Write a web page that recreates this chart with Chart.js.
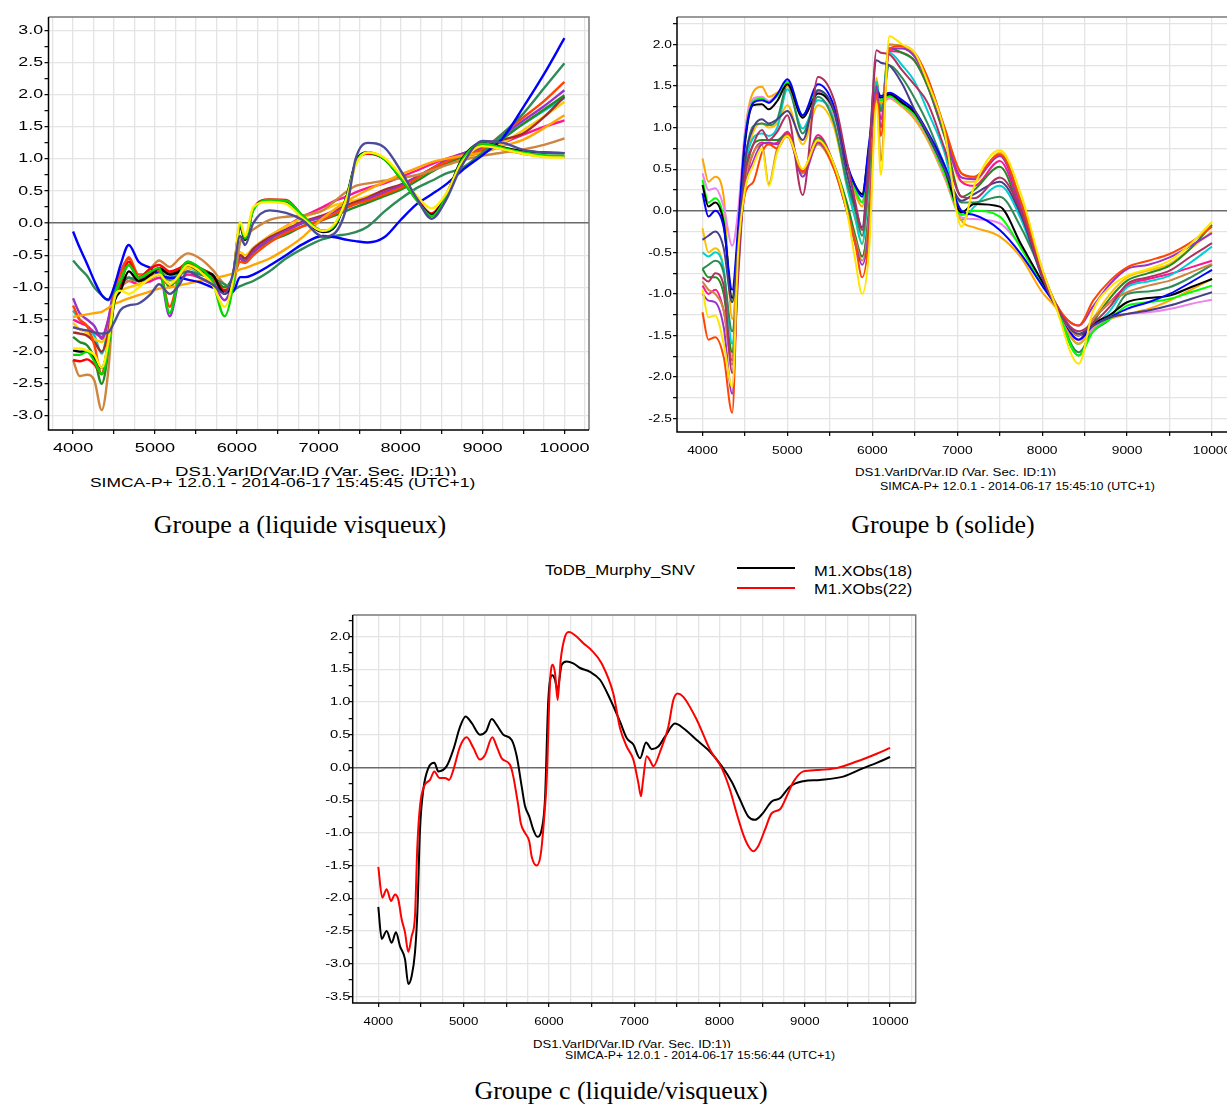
<!DOCTYPE html>
<html>
<head>
<meta charset="utf-8">
<title>Groupes a, b, c</title>
<script src="https://cdn.jsdelivr.net/npm/chart.js@4.4.1/dist/chart.umd.min.js"></script>
<style>
  body { margin: 0; background: #fff; }
  #page { position: relative; width: 1227px; height: 1104px; overflow: hidden; background: #fff;
          font-family: "Liberation Sans", Arial, sans-serif; color: #000; }
  canvas { position: absolute; }
  .txt { position: absolute; white-space: nowrap; transform-origin: left top; }
  .clip { overflow: hidden; }
  .cap { position: absolute; white-space: nowrap; font-family: "Liberation Serif", "Times New Roman", serif;
         font-size: 26px; line-height: 30px; transform: translateX(-50%); }
  .leg { position: absolute; height: 0; width: 58px; }
</style>
</head>
<body>
<div id="page">
  <canvas id="chartA" width="600" height="460" style="left:0;top:0"></canvas>
  <canvas id="chartB" width="620" height="460" style="left:630px;top:0"></canvas>
  <canvas id="chartC" width="640" height="430" style="left:300px;top:600px"></canvas>

  <!-- axis texts, group a -->
  <div class="txt clip" style="left:175px;top:463px;height:13px;font-size:13.5px;line-height:18px;transform:scaleX(1.38)">DS1.VarID(Var.ID (Var. Sec. ID:1))</div>
  <div class="txt" style="left:90px;top:474px;font-size:13.5px;line-height:18px;transform:scaleX(1.29)">SIMCA-P+ 12.0.1 - 2014-06-17 15:45:45 (UTC+1)</div>
  <div class="cap" style="left:300px;top:510px">Groupe a (liquide visqueux)</div>

  <!-- axis texts, group b -->
  <div class="txt clip" style="left:855px;top:466px;height:10px;font-size:11px;line-height:13px;transform:scaleX(1.21)">DS1.VarID(Var.ID (Var. Sec. ID:1))</div>
  <div class="txt" style="left:880px;top:480px;font-size:11px;line-height:13px;transform:scaleX(1.13)">SIMCA-P+ 12.0.1 - 2014-06-17 15:45:10 (UTC+1)</div>
  <div class="cap" style="left:943px;top:510px">Groupe b (solide)</div>

  <!-- group c legend and texts -->
  <div class="txt" style="left:545px;top:561px;font-size:15.5px;line-height:18px;transform:scaleX(1.08)">ToDB_Murphy_SNV</div>
  <div class="leg" style="left:737px;top:567px;border-top:2px solid #000"></div>
  <div class="leg" style="left:737px;top:587px;border-top:2px solid #ff0000"></div>
  <div class="txt" style="left:814px;top:562px;font-size:15.5px;line-height:18px;transform:scaleX(1.065)">M1.XObs(18)</div>
  <div class="txt" style="left:814px;top:580px;font-size:15.5px;line-height:18px;transform:scaleX(1.065)">M1.XObs(22)</div>
  <div class="txt clip" style="left:533px;top:1038px;height:10px;font-size:11px;line-height:13px;transform:scaleX(1.19)">DS1.VarID(Var.ID (Var. Sec. ID:1))</div>
  <div class="txt" style="left:565px;top:1049px;font-size:11px;line-height:13px;transform:scaleX(1.11)">SIMCA-P+ 12.0.1 - 2014-06-17 15:56:44 (UTC+1)</div>
  <div class="cap" style="left:621px;top:1076px">Groupe c (liquide/visqueux)</div>
</div>

<script>
// ===== Groupe a (liquide visqueux) =====
const wnA = [4000, 4080, 4170, 4260, 4350, 4430, 4500, 4580, 4680, 4800, 4950, 5050, 5180, 5300, 5400,
  5550, 5700, 5850, 5950, 6040, 6100, 6200, 6400, 6600, 6800, 7050, 7200, 7350, 7450, 7600,
  7800, 8000, 8200, 8380, 8550, 8750, 9000, 9250, 9500, 9750, 10000];

const aSlate = [-1.62,-1.65,-1.67,-1.7,-1.72, -1.7,-1.55,-1.35,-1.28,-1.25, -1.1,-0.95,-1.1,-0.95,-0.75,
  -0.85,-0.95,-1.1,-0.8,-0.2, -0.34,0.0,0.2,0.16,0.05, -0.21,-0.15,0.3,1.0,1.25,
  1.18,0.82,0.38,0.07,0.35, 0.9,1.28,1.25,1.14,1.1, 1.09];
const aYellow = [-1.95,-1.95,-1.98,-2.05,-2.25, -1.85,-1.2,-1.05,-1.1,-1.0, -0.85,-0.8,-0.95,-0.8,-0.65,
  -0.75,-0.95,-1.3,-0.9,0.02, -0.2,0.25,0.33,0.3,0.08, -0.12,0.0,0.42,0.9,1.1,
  1.02,0.75,0.42,0.23,0.45, 0.95,1.2,1.15,1.08,1.03, 1.02];
const aLime = [-2.05,-2.05,-2.0,-2.15,-2.35, -1.95,-1.2,-0.9,-0.65,-0.85, -0.75,-0.7,-1.4,-0.8,-0.6,
  -0.7,-0.9,-1.45,-1.0,-0.02, -0.24,0.2,0.36,0.35,0.12, -0.12,-0.02,0.45,0.93,1.1,
  1.0,0.7,0.35,0.11,0.4, 0.98,1.24,1.17,1.1,1.06, 1.05];
const aBlack = [-1.98,-2.0,-2.0,-2.1,-2.25, -1.9,-1.25,-1.05,-0.75,-0.9, -0.8,-0.7,-0.8,-0.75,-0.65,
  -0.75,-0.8,-1.1,-0.85,-0.05, -0.26,0.22,0.35,0.34,0.1, -0.14,-0.05,0.46,0.95,1.1,
  1.0,0.7,0.36,0.13,0.42, 1.0,1.25,1.18,1.12,1.1, 1.09];
const aRed = [-2.13,-2.15,-2.12,-2.2,-2.35, -1.9,-1.2,-0.95,-0.6,-0.85, -0.7,-0.65,-0.75,-0.7,-0.62,
  -0.72,-0.8,-1.05,-0.85,-0.05, -0.25,0.22,0.37,0.36,0.12, -0.12,-0.03,0.45,0.93,1.08,
  1.0,0.72,0.38,0.15,0.43, 0.98,1.22,1.15,1.08,1.04, 1.03];
const aBlue = [-0.13,-0.38,-0.63,-0.9,-1.12, -1.19,-1.0,-0.65,-0.34,-0.6, -0.7,-0.8,-0.85,-0.85,-0.88,
  -0.92,-1.0,-1.05,-1.07,-0.84, -0.84,-0.8,-0.66,-0.5,-0.33, -0.2,-0.22,-0.26,-0.28,-0.3,
  -0.22,0.05,0.3,0.45,0.6, 0.82,1.06,1.33,1.81,2.32, 2.88];
const aSeaGreen = [-0.58,-0.7,-0.82,-1.0,-1.12, -1.2,-1.05,-0.92,-0.85,-0.9, -0.85,-0.8,-0.88,-0.8,-0.75,
  -0.8,-0.85,-0.95,-1.04,-0.98, -0.95,-0.9,-0.75,-0.55,-0.4, -0.25,-0.2,-0.17,-0.14,-0.05,
  0.18,0.38,0.55,0.66,0.77, 0.86,1.1,1.4,1.71,2.1, 2.49];
const aOrange = [-1.46,-1.44,-1.42,-1.4,-1.38, -1.32,-1.26,-1.22,-1.17,-1.12, -1.06,-1.02,-1.0,-0.97,-0.94,
  -0.9,-0.86,-0.82,-0.78,-0.72, -0.7,-0.65,-0.55,-0.4,-0.22, 0.08,0.22,0.35,0.42,0.52,
  0.64,0.76,0.86,0.95,1.0, 1.05,1.1,1.2,1.3,1.48, 1.68];
const aPeru = [-2.13,-2.38,-2.36,-2.45,-2.91, -2.3,-1.2,-0.98,-0.9,-0.85, -0.7,-0.58,-0.68,-0.55,-0.47,
  -0.55,-0.72,-0.95,-0.99,-0.3, -0.2,-0.1,0.05,0.1,0.12, 0.2,0.35,0.5,0.58,0.62,
  0.66,0.7,0.75,0.82,0.9, 0.98,1.05,1.1,1.15,1.22, 1.32];
const aOrangeRed = [-1.28,-1.5,-1.6,-1.9,-2.35, -1.8,-1.1,-0.8,-0.53,-0.8, -0.8,-0.72,-1.3,-0.8,-0.65,
  -0.72,-0.85,-1.05,-0.9,-0.6, -0.62,-0.5,-0.3,-0.15,-0.05, 0.05,0.15,0.25,0.3,0.35,
  0.45,0.55,0.7,0.85,0.95, 1.05,1.15,1.4,1.65,1.9, 2.2];
const aPurple = [-1.17,-1.4,-1.5,-1.6,-1.8, -1.5,-1.0,-0.75,-0.55,-0.85, -0.85,-0.75,-1.45,-0.85,-0.65,
  -0.75,-0.9,-1.2,-0.95,-0.55, -0.6,-0.45,-0.25,-0.12,0.0, 0.1,0.18,0.25,0.3,0.38,
  0.48,0.58,0.72,0.85,0.98, 1.08,1.17,1.38,1.6,1.82, 2.07];
const aForest = [-1.77,-1.85,-1.9,-2.1,-2.5, -2.0,-1.2,-0.9,-0.65,-0.85, -0.8,-0.7,-1.0,-0.75,-0.6,
  -0.7,-0.8,-1.0,-0.85,-0.55, -0.6,-0.45,-0.28,-0.18,-0.05, 0.05,0.12,0.2,0.25,0.32,
  0.42,0.52,0.66,0.8,0.92, 1.03,1.12,1.32,1.55,1.77, 1.99];
const aBrown = [-1.7,-1.72,-1.75,-1.85,-2.0, -1.7,-1.1,-0.95,-0.85,-0.9, -0.8,-0.7,-0.78,-0.72,-0.62,
  -0.7,-0.82,-1.05,-0.88,-0.5, -0.55,-0.4,-0.22,-0.1,0.02, 0.12,0.2,0.28,0.33,0.4,
  0.52,0.6,0.72,0.85,0.95, 1.08,1.2,1.3,1.4,1.65, 1.97];
const aGold = [-1.55,-1.65,-1.7,-1.8,-1.85, -1.6,-1.15,-1.05,-1.0,-0.95, -0.85,-0.75,-0.9,-0.8,-0.7,
  -0.75,-0.85,-1.0,-0.9,-0.45, -0.5,-0.38,-0.2,-0.05,0.08, 0.2,0.28,0.33,0.36,0.42,
  0.5,0.58,0.7,0.82,0.93, 1.02,1.1,1.25,1.45,1.66, 1.89];
const aPink = [-1.5,-1.55,-1.6,-1.7,-1.77, -1.5,-1.15,-1.0,-0.9,-0.95, -0.9,-0.85,-0.95,-0.88,-0.8,
  -0.85,-0.95,-1.05,-0.95,-0.5, -0.55,-0.4,-0.2,-0.05,0.1, 0.25,0.35,0.42,0.48,0.55,
  0.62,0.72,0.82,0.92,1.0, 1.08,1.12,1.25,1.38,1.5, 1.6];
const aCyan = [-1.36,-1.5,-1.6,-1.75,-2.03, -1.6,-1.1,-0.95,-0.85,-0.9, -0.8,-0.75,-0.85,-0.78,-0.7,
  -0.78,-0.88,-1.05,-0.9,-0.55, -0.58,-0.45,-0.25,-0.12,0.0, 0.1,0.2,0.28,0.32,0.38,
  0.48,0.56,0.7,0.82,0.93, 1.05,1.15,1.35,1.55,1.75, 1.95];

// ===== Groupe b (solide) =====
const wnB = [4000, 4070, 4150, 4250, 4350, 4420, 4500, 4600, 4700, 4780, 4880, 5000, 5180, 5360, 5550,
  5700, 5800, 5880, 5960, 6050, 6100, 6200, 6350, 6500, 6650, 6850, 7050, 7200, 7500, 7750,
  8000, 8150, 8430, 8600, 8800, 9000, 9250, 9500, 9750, 10000];

const bYellow = [-0.94,-1.28,-1.26,-1.6,-2.12, -0.5,0.25,0.55,0.75,0.3, 0.7,0.9,0.5,0.85,0.55,
  0.0,-0.6,-1.0,-0.5,1.3, 0.43,2.1,2.0,1.9,1.55, 0.95,-0.19,0.3,0.73,0.2,
  -0.7,-1.12,-1.84,-1.2,-0.92, -0.78,-0.7,-0.6,-0.4,-0.13];
const bMaroon = [-0.8,-0.85,-0.75,-0.9,-1.95, -0.8,0.4,0.8,0.97,0.85, 0.95,1.15,0.19,1.61,1.33,
  0.6,0.1,-0.23,0.55,1.93, 1.9,1.88,1.69,1.51,1.3, 0.75,0.17,0.15,0.4,0.0,
  -0.78,-1.12,-1.45,-1.35,-1.15, -0.88,-0.8,-0.72,-0.55,-0.39];
const bSlate = [-0.35,-0.3,-0.25,-0.45,-1.1, -0.4,0.6,1.0,1.1,1.05, 1.1,1.2,0.85,1.45,1.2,
  0.45,0.05,-0.2,0.7,1.81, 1.78,1.75,1.53,1.21,0.93, 0.5,0.12,0.2,0.35,-0.05,
  -0.8,-1.12,-1.48,-1.38,-1.28, -1.24,-1.2,-1.14,-1.06,-0.98];
const bOrangeRed = [-1.22,-1.55,-1.52,-1.76,-2.43, -0.6,0.2,0.35,0.7,0.8, 0.75,0.92,0.47,0.85,0.5,
  0.0,-0.4,-0.8,-0.3,1.4, 0.9,1.95,1.98,1.9,1.6, 1.0,0.45,0.41,0.68,0.1,
  -0.72,-1.1,-1.38,-1.08,-0.84, -0.68,-0.6,-0.52,-0.38,-0.19];
const bPurple = [-1.0,-1.08,-1.1,-1.4,-2.2, -0.6,0.25,0.6,0.8,0.82, 0.8,0.93,0.41,0.82,0.52,
  0.0,-0.4,-0.65,-0.2,1.5, 1.0,1.95,1.95,1.85,1.55, 0.95,0.4,0.38,0.66,0.05,
  -0.75,-1.12,-1.38,-1.15,-0.88, -0.7,-0.65,-0.56,-0.42,-0.27];
const bPeru = [-0.85,-0.95,-1.0,-1.2,-1.85, -0.5,0.35,0.7,0.8,0.32, 0.75,0.89,0.45,0.8,0.5,
  0.0,-0.35,-0.6,-0.1,1.5, 0.6,2.0,1.98,1.88,1.6, 1.0,0.45,0.4,0.68,0.1,
  -0.7,-1.1,-1.5,-1.3,-1.1, -0.98,-0.9,-0.84,-0.74,-0.64];
const bBlue = [0.21,-0.07,0.0,-0.2,-0.95, -0.2,0.85,1.3,1.33,1.3, 1.4,1.58,1.15,1.52,1.25,
  0.57,0.3,0.17,0.8,1.45, 1.38,1.42,1.33,1.2,0.95, 0.55,0.0,-0.05,-0.23,-0.52,
  -0.9,-1.12,-1.55,-1.38,-1.28, -1.18,-1.1,-1.0,-0.86,-0.71];
const bBlack = [0.31,0.05,0.1,-0.15,-1.05, -0.3,0.8,1.27,1.28,1.22, 1.32,1.52,1.12,1.41,1.2,
  0.55,0.3,0.2,0.75,1.42, 1.36,1.4,1.3,1.18,0.92, 0.5,-0.02,0.08,0.05,-0.4,
  -0.85,-1.1,-1.5,-1.36,-1.25, -1.1,-1.05,-1.02,-0.92,-0.82];
const bLime = [0.37,0.1,0.15,-0.1,-1.1, -0.3,0.85,1.32,1.35,1.3, 1.38,1.55,1.15,1.45,1.18,
  0.55,0.25,0.1,0.7,1.4, 1.33,1.38,1.28,1.15,0.9, 0.45,-0.05,0.0,-0.07,-0.45,
  -0.88,-1.12,-1.74,-1.45,-1.3, -1.14,-1.1,-1.06,-0.98,-0.9];
const bViolet = [0.45,0.25,0.27,0.05,-0.42, 0.0,0.95,1.35,1.37,1.32, 1.4,1.52,1.13,1.42,1.15,
  0.5,0.25,0.1,0.7,1.38, 1.32,1.36,1.27,1.13,0.88, 0.42,-0.08,-0.1,-0.15,-0.43,
  -0.85,-1.12,-1.55,-1.42,-1.28, -1.24,-1.22,-1.18,-1.12,-1.07];
const bOrange = [0.63,0.35,0.41,0.17,-1.3, -0.5,0.9,1.43,1.49,1.37, 1.42,1.5,1.12,1.45,1.15,
  0.5,0.2,0.05,0.65,1.35, 1.3,1.35,1.25,1.1,0.85, 0.4,-0.12,-0.2,-0.31,-0.56,
  -0.98,-1.15,-1.6,-1.4,-1.3, -1.24,-1.18,-1.08,-0.95,-0.82];
const bSeaGreen = [-0.7,-0.65,-0.6,-0.75,-1.45, -0.6,0.55,1.02,1.05,1.03, 1.1,1.51,0.93,1.37,1.05,
  0.35,0.0,-0.3,0.4,1.5, 1.2,1.75,1.6,1.35,1.05, 0.55,0.1,0.1,0.17,-0.2,
  -0.75,-1.1,-1.7,-1.45,-1.3, -1.0,-0.97,-0.92,-0.8,-0.65];
const bCyan = [-0.5,-0.55,-0.5,-0.7,-1.6, -0.7,0.45,0.88,0.93,0.9, 1.0,1.46,0.99,1.33,1.1,
  0.3,-0.1,-0.4,0.35,1.55, 1.2,1.9,1.75,1.55,1.2, 0.7,-0.11,0.05,0.3,-0.1,
  -0.8,-1.12,-1.6,-1.4,-1.2, -0.92,-0.85,-0.78,-0.62,-0.43];
const bForest = [-0.7,-0.8,-0.8,-1.0,-1.7, -0.4,0.35,0.8,0.85,0.85, 0.85,0.93,0.45,0.88,0.55,
  0.1,-0.3,-0.55,0.0,1.55, 1.2,1.95,1.9,1.8,1.5, 0.9,0.17,0.25,0.53,-0.05,
  -0.78,-1.12,-1.74,-1.35,-1.05, -0.84,-0.75,-0.66,-0.45,-0.17];
const bPink = [-0.9,-1.0,-0.95,-1.2,-1.8, -0.5,0.3,0.7,0.82,0.8, 0.82,0.95,0.48,0.91,0.55,
  0.05,-0.35,-0.55,0.0,1.45, 1.1,1.92,1.9,1.8,1.5, 0.9,0.35,0.3,0.6,0.0,
  -0.75,-1.12,-1.55,-1.3,-1.1, -0.9,-0.82,-0.76,-0.68,-0.6];
const bGold = [-0.21,-0.5,-0.45,-0.7,-1.75, -0.4,0.5,0.95,1.05,1.0, 1.05,1.27,0.8,1.27,1.0,
  0.3,-0.1,-0.4,0.35,1.6, 1.2,2.0,1.97,1.85,1.55, 0.95,0.35,0.35,0.7,0.12,
  -0.72,-1.1,-1.6,-1.3,-1.0, -0.8,-0.72,-0.64,-0.45,-0.25];

// ===== Groupe c (liquide/visqueux) =====
const wnC18 = [4000,4040,4098,4157,4207,4254,4313,4352,4391,4430,4458,4489,4528,4587,4657,4704,4802,4879,
  4958,5024,5094,5192,5263,5330,5388,5466,5564,5623,5681,5720,5770,5817,5864,5915,5954,5993,6040,6072,
  6099,6150,6208,6286,6365,6482,6599,6716,6834,6912,6990,7068,7139,7205,7283,7361,7478,7576,7733,7889,
  8026,8143,8240,8338,8416,8495,8612,8709,8827,8983,9178,9451,9686,9843,10000];
const obs18 = [-2.13,-2.62,-2.50,-2.68,-2.52,-2.73,-2.93,-3.31,-3.19,-2.83,-2.22,-0.95,-0.34,-0.01,0.07,-0.06,0.02,0.27,
  0.62,0.78,0.68,0.50,0.55,0.74,0.65,0.50,0.42,0.17,-0.29,-0.59,-0.75,-0.95,-1.06,-0.95,-0.49,1.03,1.41,1.34,
  1.18,1.57,1.62,1.59,1.52,1.46,1.34,1.05,0.70,0.45,0.35,0.14,0.38,0.28,0.32,0.47,0.67,0.60,0.42,0.24,
  0.02,-0.22,-0.49,-0.75,-0.80,-0.72,-0.52,-0.47,-0.29,-0.21,-0.19,-0.14,-0.01,0.07,0.16];

const wnC22 = [4000,4047,4098,4149,4196,4235,4274,4313,4352,4391,4430,4458,4489,4536,4606,4657,4716,4782,4830,4879,
  4958,5036,5114,5192,5251,5337,5388,5447,5544,5583,5623,5642,5670,5720,5770,5798,5857,5904,5943,5974,
  6013,6044,6072,6103,6138,6189,6239,6306,6404,6501,6619,6755,6834,6912,6990,7049,7080,7100,7147,7180,
  7225,7303,7400,7459,7510,7576,7733,7889,8026,8123,8201,8280,8338,8396,8455,8533,8612,8709,8788,8866,
  8983,9139,9373,9608,9843,10000];
const obs22 = [-1.52,-1.99,-1.86,-2.04,-1.94,-2.02,-2.32,-2.52,-2.82,-2.58,-2.27,-1.20,-0.59,-0.29,-0.19,-0.06,-0.16,-0.16,-0.19,-0.04,
  0.32,0.46,0.30,0.12,0.19,0.46,0.32,0.14,0.04,-0.14,-0.44,-0.59,-0.85,-1.00,-1.13,-1.36,-1.50,-1.33,-0.80,-0.19,
  1.29,1.57,1.44,1.03,1.64,2.00,2.07,2.02,1.90,1.79,1.59,1.13,0.60,0.32,0.12,-0.24,-0.44,-0.24,0.17,0.12,
  0.02,0.24,0.62,1.03,1.13,1.08,0.73,0.27,-0.01,-0.34,-0.70,-1.03,-1.20,-1.28,-1.20,-0.95,-0.70,-0.64,-0.44,-0.22,
  -0.06,-0.04,-0.01,0.09,0.21,0.30];

// ---- drawing helpers ----
const isHalf = v => Math.abs(v * 2 - Math.round(v * 2)) < 1e-6;

// frame: black left/bottom axis, grey top/right border
const framePlugin = {
  id: 'frame',
  afterDraw(chart) {
    const { ctx, chartArea: a } = chart;
    ctx.save();
    ctx.lineWidth = 1.5;
    ctx.strokeStyle = '#7a7a7a';
    ctx.beginPath();
    ctx.moveTo(a.left, a.top); ctx.lineTo(a.right, a.top); ctx.lineTo(a.right, a.bottom);
    ctx.stroke();
    ctx.strokeStyle = '#000';
    ctx.beginPath();
    ctx.moveTo(a.left, a.top); ctx.lineTo(a.left, a.bottom); ctx.lineTo(a.right, a.bottom);
    ctx.stroke();
    ctx.restore();
  }
};

// tick labels are drawn from the scales, a bit stretched like the SIMCA export
function tickLabels(o) {
  return {
    id: 'ticklabels',
    afterDraw(chart) {
      const ctx = chart.ctx, xs = chart.scales.x, ys = chart.scales.y;
      ctx.save();
      ctx.fillStyle = '#000';
      ctx.font = o.fontSize + 'px "Liberation Sans", Arial, sans-serif';
      ctx.textAlign = 'right';
      ctx.textBaseline = 'middle';
      ys.ticks.forEach(t => {
        if (!isHalf(t.value)) return;
        const v = Math.abs(t.value) < 1e-9 ? 0 : t.value;
        ctx.save();
        ctx.translate(o.yLabelRight, ys.getPixelForValue(t.value));
        ctx.scale(o.ySx, 1);
        ctx.fillText(v.toFixed(1), 0, 0);
        ctx.restore();
      });
      ctx.textAlign = 'center';
      ctx.textBaseline = 'alphabetic';
      xs.ticks.forEach(t => {
        if (t.value % 1000 !== 0) return;
        ctx.save();
        ctx.translate(xs.getPixelForValue(t.value), o.xLabelBase);
        ctx.scale(o.xSx, 1);
        ctx.fillText(String(t.value), 0, 0);
        ctx.restore();
      });
      ctx.restore();
    }
  };
}

function spectrumChart(id, series, o) {
  const datasets = series.map(s => ({
    data: s.x.map((w, i) => ({ x: w, y: s.v[i] })),
    borderColor: s.c,
    borderWidth: o.lineWidth,
    pointRadius: 0,
    cubicInterpolationMode: 'monotone',
    fill: false
  }));
  return new Chart(document.getElementById(id), {
    type: 'line',
    data: { datasets: datasets },
    options: {
      responsive: false,
      animation: false,
      devicePixelRatio: 1,
      events: [],
      layout: { padding: { top: o.padTop, right: o.padRight, left: 0, bottom: 0 } },
      plugins: { legend: { display: false }, tooltip: { enabled: false } },
      scales: {
        x: {
          type: 'linear', min: 3700, max: 10300,
          afterFit: s => { s.height = o.xAxisH; },
          border: { display: false },
          // 250 step for every chart; chart b only shows every second grid line
          ticks: { display: false, stepSize: 250, includeBounds: false, autoSkip: false },
          grid: {
            color: c => (c.tick && c.tick.value % o.xGridEvery === 0) ? '#e4e4e4' : 'rgba(0,0,0,0)',
            lineWidth: 1.3,
            tickColor: c => (c.tick && c.tick.value % 500 === 0) ? '#000' : 'rgba(0,0,0,0)',
            tickLength: 4,
            tickWidth: 1.2
          }
        },
        y: {
          type: 'linear', min: o.yMin, max: o.yMax,
          afterFit: s => { s.width = o.yAxisW; },
          border: { display: false },
          ticks: { display: false, stepSize: 0.25, includeBounds: false },
          grid: {
            color: c => {
              const v = c.tick ? c.tick.value : 1;
              if (Math.abs(v) < 1e-9) return '#6a6a6a';
              if (o.yGridHalfOnly && !isHalf(v)) return 'rgba(0,0,0,0)';
              return '#e4e4e4';
            },
            lineWidth: c => (c.tick && Math.abs(c.tick.value) < 1e-9) ? 1.6 : 1.3,
            tickColor: '#000',
            tickLength: 4,
            tickWidth: 1.2
          }
        }
      }
    },
    plugins: [framePlugin, tickLabels(o)]
  });
}

// ---- Groupe a ----
spectrumChart('chartA', [
  { x: wnA, v: aSlate, c: '#4d4b99' },
  { x: wnA, v: aYellow, c: '#ffee00' },
  { x: wnA, v: aLime, c: '#00d800' },
  { x: wnA, v: aBlack, c: '#000000' },
  { x: wnA, v: aRed, c: '#ff0000' },
  { x: wnA, v: aBlue, c: '#0000ff' },
  { x: wnA, v: aSeaGreen, c: '#2e8b57' },
  { x: wnA, v: aOrange, c: '#ffa500' },
  { x: wnA, v: aPeru, c: '#cd853f' },
  { x: wnA, v: aOrangeRed, c: '#ff4500' },
  { x: wnA, v: aPurple, c: '#9932cc' },
  { x: wnA, v: aForest, c: '#228b22' },
  { x: wnA, v: aBrown, c: '#a52a2a' },
  { x: wnA, v: aGold, c: '#ffc800' },
  { x: wnA, v: aPink, c: '#ff1493' },
  { x: wnA, v: aCyan, c: '#00c8d0' }
], {
  lineWidth: 2.4, padTop: 17, padRight: 11, yAxisW: 48.5, xAxisH: 30,
  yMin: -3.22, yMax: 3.21, xGridEvery: 250, yGridHalfOnly: true,
  fontSize: 12.5, ySx: 1.42, xSx: 1.45, yLabelRight: 43, xLabelBase: 452
});

// ---- Groupe b ----
spectrumChart('chartB', [
  { x: wnB, v: bYellow, c: '#ffe600' },
  { x: wnB, v: bMaroon, c: '#b03060' },
  { x: wnB, v: bSlate, c: '#483d8b' },
  { x: wnB, v: bOrangeRed, c: '#ff4500' },
  { x: wnB, v: bPurple, c: '#9932cc' },
  { x: wnB, v: bPeru, c: '#cd853f' },
  { x: wnB, v: bBlue, c: '#0000ff' },
  { x: wnB, v: bBlack, c: '#000000' },
  { x: wnB, v: bLime, c: '#00ff00' },
  { x: wnB, v: bViolet, c: '#ee82ee' },
  { x: wnB, v: bOrange, c: '#ffa500' },
  { x: wnB, v: bSeaGreen, c: '#2e8b57' },
  { x: wnB, v: bCyan, c: '#00ced1' },
  { x: wnB, v: bForest, c: '#228b22' },
  { x: wnB, v: bPink, c: '#ff1493' },
  { x: wnB, v: bGold, c: '#ffc000' }
], {
  lineWidth: 2, padTop: 17, padRight: 12.5, yAxisW: 47, xAxisH: 28,
  yMin: -2.66, yMax: 2.33, xGridEvery: 500, yGridHalfOnly: false,
  fontSize: 11.5, ySx: 1.2, xSx: 1.2, yLabelRight: 42, xLabelBase: 454
});

// ---- Groupe c ----
spectrumChart('chartC', [
  { x: wnC22, v: obs22, c: '#ff0000' },
  { x: wnC18, v: obs18, c: '#000000' }
], {
  lineWidth: 2, padTop: 15, padRight: 24.3, yAxisW: 52.7, xAxisH: 27,
  yMin: -3.60, yMax: 2.33, xGridEvery: 250, yGridHalfOnly: true,
  fontSize: 11.5, ySx: 1.28, xSx: 1.15, yLabelRight: 50.5, xLabelBase: 425
});
</script>
</body>
</html>
